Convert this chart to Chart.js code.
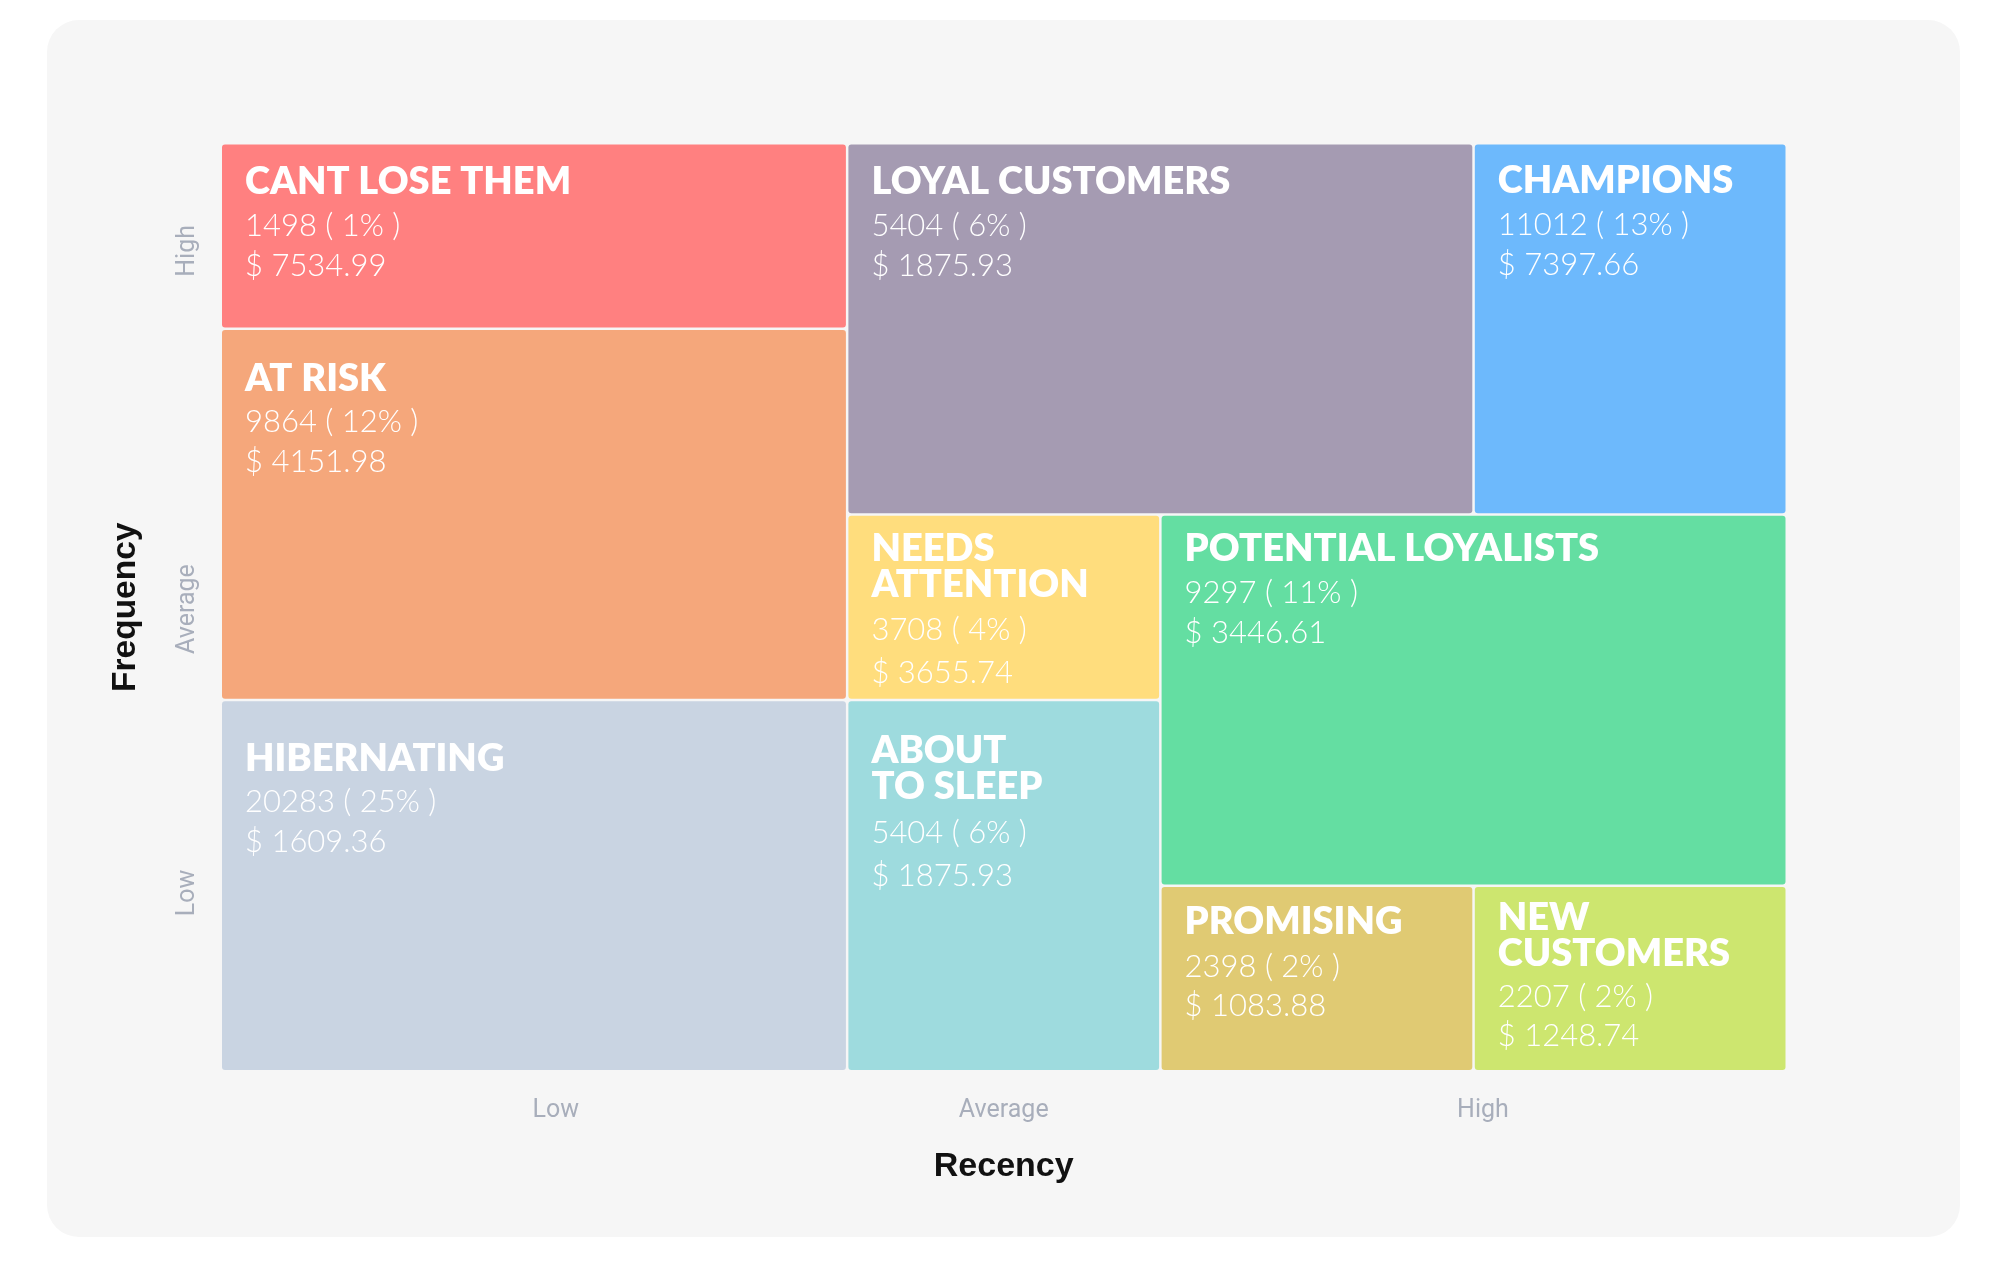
<!DOCTYPE html>
<html>
<head>
<meta charset="utf-8">
<script src="https://cdn.jsdelivr.net/npm/chart.js@4.4.1/dist/chart.umd.min.js"></script>
<style>
  html, body { margin: 0; padding: 0; background: #ffffff; }
  #card { position: absolute; left: 47px; top: 20px; width: 1913px; height: 1217px; background: #f6f6f6; border-radius: 32px; }
  #c { position: absolute; left: 0; top: 0; }
</style>
</head>
<body>
<div id="card"></div>
<canvas id="c" width="2000" height="1264"></canvas>
<script>
// ---- data ----
const segments = ['CANT LOSE THEM', 'AT RISK', 'HIBERNATING', 'LOYAL CUSTOMERS', 'CHAMPIONS',
  'NEEDS\nATTENTION', 'ABOUT\nTO SLEEP', 'POTENTIAL LOYALISTS', 'PROMISING', 'NEW\nCUSTOMERS'];
const customers = [1498, 9864, 20283, 5404, 11012, 3708, 5404, 9297, 2398, 2207];
const percents = [1, 12, 25, 6, 13, 4, 6, 11, 2, 2];
const monetary = [7534.99, 4151.98, 1609.36, 1875.93, 7397.66, 3655.74, 1875.93, 3446.61, 1083.88, 1248.74];
const recencyFrom = [0, 0, 0, 2, 4, 2, 2, 3, 3, 4];
const recencyTo = [2, 2, 2, 4, 5, 3, 3, 5, 4, 5];
const frequencyFrom = [4, 2, 0, 3, 3, 2, 0, 1, 0, 0];
const frequencyTo = [5, 4, 2, 5, 5, 3, 2, 3, 1, 1];
const recencyTicks = ['Low', 'Average', 'High'];
const recencyTickAt = [1.07, 2.5, 4.03];
const frequencyTicks = ['Low', 'Average', 'High'];
const frequencyTickAt = [0.96, 2.49, 4.42];

// ---- styles ----
const cellColors = ['#FF8080', '#F5A77B', '#C9D4E2', '#A59BB2', '#6DB9FC',
  '#FFDD7D', '#9EDBDE', '#64DEA2', '#E0CA73', '#CDE66F'];
const labelTop = [49, 60.5, 69.5, 49, 48.5, 45, 61.5, 45, 47.5, 43.5];
const gapTitle = [42.5, 41.7, 41.3, 42, 42.3, 43.2, 44, 42, 43, 40.3];
const gapValue = [39.7, 40, 40, 40, 40, 42.9, 43, 40.5, 38.7, 39.7];
const cellGap = 2.5;
const titleFont = '800 38px Lato';
const valueFont = '300 31px Lato';

const cellsPlugin = {
  id: 'rfmCells',
  beforeDatasetsDraw(chart) {
    const { ctx, scales: { x, y } } = chart;
    ctx.save();
    segments.forEach((name, i) => {
      const left = x.getPixelForValue(recencyFrom[i]) + cellGap / 2;
      const right = x.getPixelForValue(recencyTo[i]) - cellGap / 2;
      const top = y.getPixelForValue(frequencyTo[i]) + cellGap / 2;
      const bottom = y.getPixelForValue(frequencyFrom[i]) - cellGap / 2;
      ctx.fillStyle = cellColors[i];
      ctx.beginPath();
      ctx.roundRect(left, top, right - left, bottom - top, 3);
      ctx.fill();

      ctx.fillStyle = '#ffffff';
      ctx.textAlign = 'left';
      ctx.textBaseline = 'alphabetic';
      const tx = left + 23;
      let ty = top + labelTop[i];
      ctx.font = titleFont;
      const lines = name.split('\n');
      lines.forEach((ln, k) => {
        ctx.fillText(ln, tx, ty);
        if (k < lines.length - 1) ty += 36;
      });
      ty += gapTitle[i];
      ctx.font = valueFont;
      ctx.fillText(customers[i] + ' ( ' + percents[i] + '% )', tx, ty);
      ty += gapValue[i];
      ctx.fillText('$ ' + monetary[i].toFixed(2), tx, ty);
    });
    ctx.restore();
  }
};

new Chart(document.getElementById('c'), {
  type: 'scatter',
  data: {
    datasets: [{
      label: 'segments',
      data: segments.map((s, i) => ({ x: (recencyFrom[i] + recencyTo[i]) / 2, y: (frequencyFrom[i] + frequencyTo[i]) / 2 })),
      pointRadius: 0,
      pointHoverRadius: 0
    }]
  },
  options: {
    responsive: false,
    animation: false,
    events: [],
    layout: { padding: { top: 143.25, right: 213.25, bottom: 0, left: 0 } },
    plugins: { legend: { display: false }, tooltip: { enabled: false } },
    scales: {
      x: {
        type: 'linear', min: 0, max: 5, position: 'bottom',
        afterBuildTicks: s => { s.ticks = recencyTickAt.map(v => ({ value: v })); },
        afterFit: s => { s.height = 192.75; },
        grid: { display: false, drawTicks: false },
        border: { display: false },
        ticks: {
          callback: (v, i) => recencyTicks[i],
          color: '#a8aebb', font: { family: 'Roboto', size: 25 },
          padding: 24, maxRotation: 0, minRotation: 0, autoSkip: false
        },
        title: {
          display: true, text: 'Recency', color: '#111111',
          font: { family: 'Liberation Sans', size: 34, weight: 'bold' },
          padding: { top: 0, bottom: 77 }
        }
      },
      y: {
        type: 'linear', min: 0, max: 5, position: 'left',
        afterBuildTicks: s => { s.ticks = frequencyTickAt.map(v => ({ value: v })); },
        afterFit: s => { s.width = 220.75; },
        grid: { display: false, drawTicks: false },
        border: { display: false },
        ticks: {
          callback: (v, i) => frequencyTicks[i],
          color: '#a8aebb', font: { family: 'Roboto', size: 25 },
          padding: -12, minRotation: 90, maxRotation: 90, crossAlign: 'center', autoSkip: false
        },
        title: {
          display: true, text: 'Frequency', color: '#111111',
          font: { family: 'Liberation Sans', size: 33.5, weight: 'bold' },
          padding: { top: 105.5, bottom: 0 }
        }
      }
    }
  },
  plugins: [cellsPlugin]
});
</script>
</body>
</html>
